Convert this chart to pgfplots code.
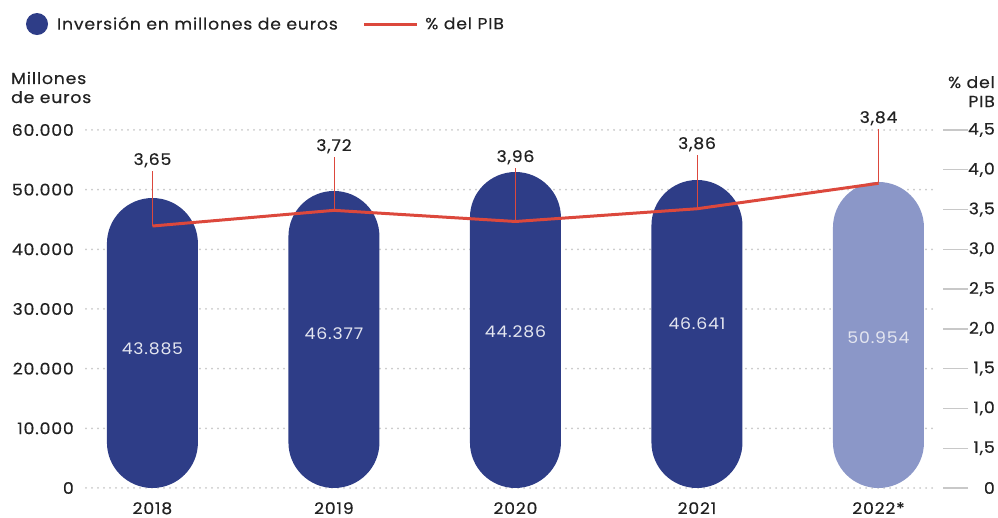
\documentclass[border=0pt]{standalone}
\usepackage{pgfplots}
\pgfplotsset{compat=1.18}
\usepackage{fontspec}
\setmainfont{Poppins}[LetterSpace=5, FakeStretch=1.08, FakeBold=0.4]
\newfontfamily\lightfont{Poppins}[LetterSpace=5, FakeStretch=1.08]
\definecolor{barblue}{HTML}{2E3D87}
\definecolor{barlight}{HTML}{8B97C8}
\definecolor{pibred}{HTML}{DC483C}
\definecolor{txt}{HTML}{222222}
\definecolor{gridc}{HTML}{C8C8C8}
\definecolor{lbl}{HTML}{E4E6F0}
\begin{document}
\begin{tikzpicture}[font=\fontsize{16}{19}\selectfont, text=txt]
\useasboundingbox (0,0) rectangle (998pt,518pt);
\begin{axis}[
  at={(86pt,30pt)}, anchor=south west,
  scale only axis, width=846pt, height=358pt,
  xmin=-0.366, xmax=4.295, ymin=0, ymax=60000,
  clip=false,
  scaled y ticks=false,
  axis line style={draw=none},
  major tick length=0pt,
  xtick={0,1,2,3,4}, xticklabels={2018,2019,2020,2021,2022*},
  xticklabel style={anchor=base, yshift=-26pt, inner sep=0pt},
  ytick={0,10000,20000,30000,40000,50000,60000},
  yticklabels={0,10.000,20.000,30.000,40.000,50.000,60.000},
  yticklabel style={anchor=east, inner sep=0pt, xshift=-12pt},
  ymajorgrids,
  grid style={gridc, line width=2pt, line cap=round, dash pattern=on 0pt off 6pt},
  legend columns=2,
  legend style={at={(-0.0709,1.296)}, anchor=west, draw=none, fill=none,
    inner sep=0pt, outer sep=0pt, column sep=0pt,
    nodes={inner sep=0pt, text=txt}, font=\fontsize{16}{19}\selectfont},
]
\addplot[ybar, bar width=91pt, fill=barblue, draw=none, rounded corners=45.5pt,
  legend image code/.code={\fill[barblue] (11pt,0pt) circle (11pt); \path (31pt,0pt);}]
  coordinates {(0,48600) (1,49780) (2,52960) (3,51620)};
\addlegendentry{Inversión en millones de euros}
\addlegendimage{legend image code/.code={\path (-26pt,0pt); \draw[pibred, line width=3pt] (0pt,0pt) -- (53pt,0pt); \path (61pt,0pt);}}
\addlegendentry{\% del PIB}
\addplot[ybar, bar width=91pt, fill=barlight, draw=none, rounded corners=45.5pt, forget plot]
  coordinates {(4,51285)};
\addplot[draw=none, forget plot, nodes near coords, point meta=explicit symbolic,
  nodes near coords style={anchor=center, text=lbl, inner sep=0pt, font=\lightfont\fontsize{16}{19}\selectfont}]
  table[meta=label] {
x y label
0 23296 43.885
1 25810 46.377
2 26145 44.286
3 27486 46.641
4 25140 50.954
};
\node[anchor=base west, inner sep=0pt] at (axis description cs:-0.0887,1.1285) {Millones};
\node[anchor=base west, inner sep=0pt] at (axis description cs:-0.0887,1.0754) {de euros};
\node[anchor=base east, inner sep=0pt] at (axis description cs:1.0745,1.1173) {\% del};
\node[anchor=base east, inner sep=0pt] at (axis description cs:1.0745,1.0642) {PIB};
\end{axis}
\begin{axis}[
  at={(86pt,30pt)}, anchor=south west,
  scale only axis, width=857pt, height=358pt,
  xmin=-0.366, xmax=4.355, ymin=0, ymax=4.5,
  clip=false,
  axis line style={draw=none},
  xtick=\empty,
  ytick={0,0.5,1,1.5,2,2.5,3,3.5,4,4.5},
  yticklabels={0,{1,5},{1,0},{1,5},{2,0},{2,5},{3,0},{3,5},{4,0},{4,5}},
  ytick pos=right, yticklabel pos=right,
  tick align=outside, major tick length=25pt,
  tick style={gridc, line width=1.3pt},
  yticklabel style={anchor=east, inner sep=0pt, xshift=27pt},
]
\addplot[pibred, line width=0.8pt] coordinates {(0,3.293) (0,3.985)};
\addplot[pibred, line width=0.8pt] coordinates {(1,3.49) (1,4.161)};
\addplot[pibred, line width=0.8pt] coordinates {(2,3.35) (2,4.022)};
\addplot[pibred, line width=0.8pt] coordinates {(3,3.51) (3,4.186)};
\addplot[pibred, line width=0.8pt] coordinates {(4,3.83) (4,4.513)};
\addplot[pibred, line width=3pt, line join=round] coordinates {(0,3.293) (1,3.49) (2,3.35) (3,3.51) (4,3.83)};
\addplot[draw=none, nodes near coords, point meta=explicit symbolic,
  nodes near coords style={anchor=base, yshift=6pt, inner sep=0pt, text=txt}]
  table[meta=label] {
x y label
0 3.985 3,65
1 4.161 3,72
2 4.022 3,96
3 4.186 3,86
4 4.513 3,84
};
\end{axis}
\end{tikzpicture}
\end{document}
